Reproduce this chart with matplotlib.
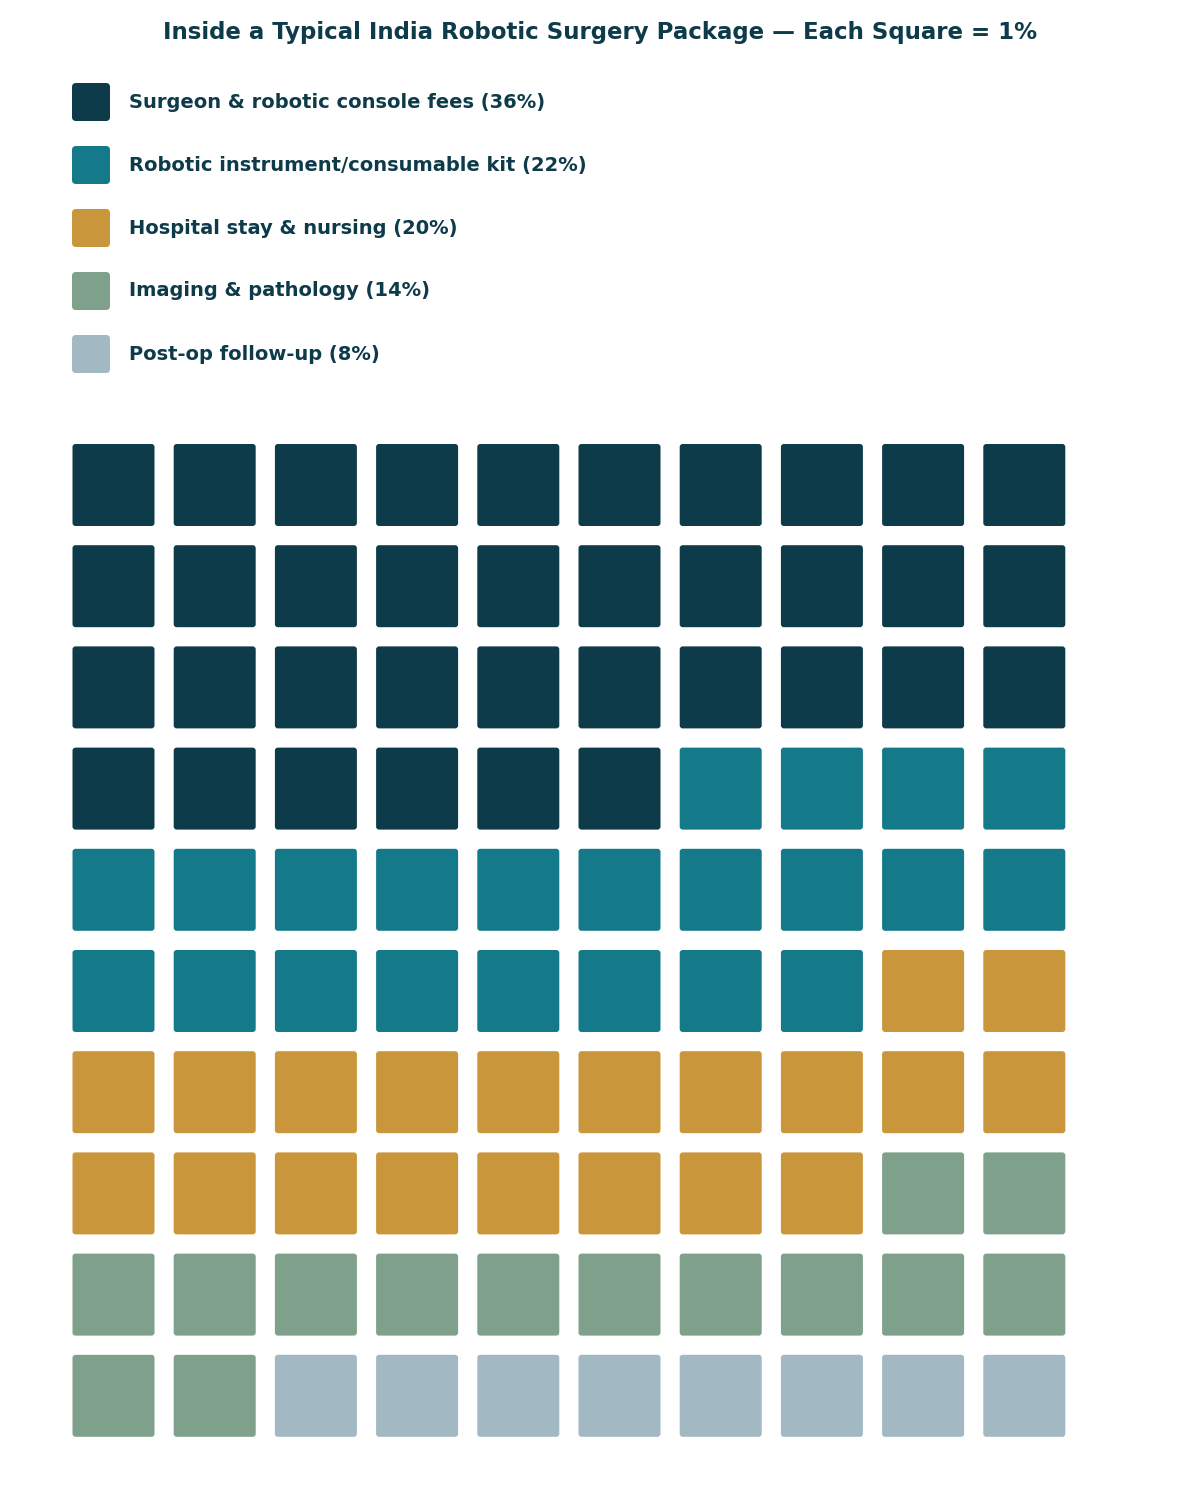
import matplotlib
matplotlib.use("Agg")
import matplotlib.pyplot as plt
from matplotlib.patches import FancyBboxPatch

categories = ["Surgeon & robotic console fees", "Robotic instrument/consumable kit",
              "Hospital stay & nursing", "Imaging & pathology", "Post-op follow-up"]
values = [36, 22, 20, 14, 8]
colors = ["#0E3B4A", "#147A8A", "#C9963B", "#7FA08A", "#A2B8C2"]
title = "Inside a Typical India Robotic Surgery Package \u2014 Each Square = 1%"
text_color = "#0E3B4A"

fig = plt.figure(figsize=(12, 14.88), dpi=100)
ax = fig.add_axes([0, 0, 1, 1])
ax.set_xlim(0, 1200)
ax.set_ylim(1488, 0)
ax.axis("off")

ax.text(600, 32, title, ha="center", va="center", fontsize=16.5,
        fontweight="bold", color=text_color)

# legend
for i, (c, v, col) in enumerate(zip(categories, values, colors)):
    y = 102 + i * 63
    ax.add_patch(FancyBboxPatch((72, y - 19), 38, 38,
                                boxstyle="round,pad=0,rounding_size=4",
                                fc=col, ec="none"))
    ax.text(129, y, f"{c} ({v}%)", ha="left", va="center", fontsize=14,
            fontweight="bold", color=text_color)

# waffle
cells = []
for col, v in zip(colors, values):
    cells += [col] * v
x0, y0, pitch, size = 72.5, 444, 101.2, 82
for k, col in enumerate(cells):
    r, c = divmod(k, 10)
    ax.add_patch(FancyBboxPatch((x0 + c * pitch, y0 + r * pitch), size, size,
                                boxstyle="round,pad=0,rounding_size=3",
                                fc=col, ec="none"))

fig.savefig("out.png", dpi=100, facecolor="white")
